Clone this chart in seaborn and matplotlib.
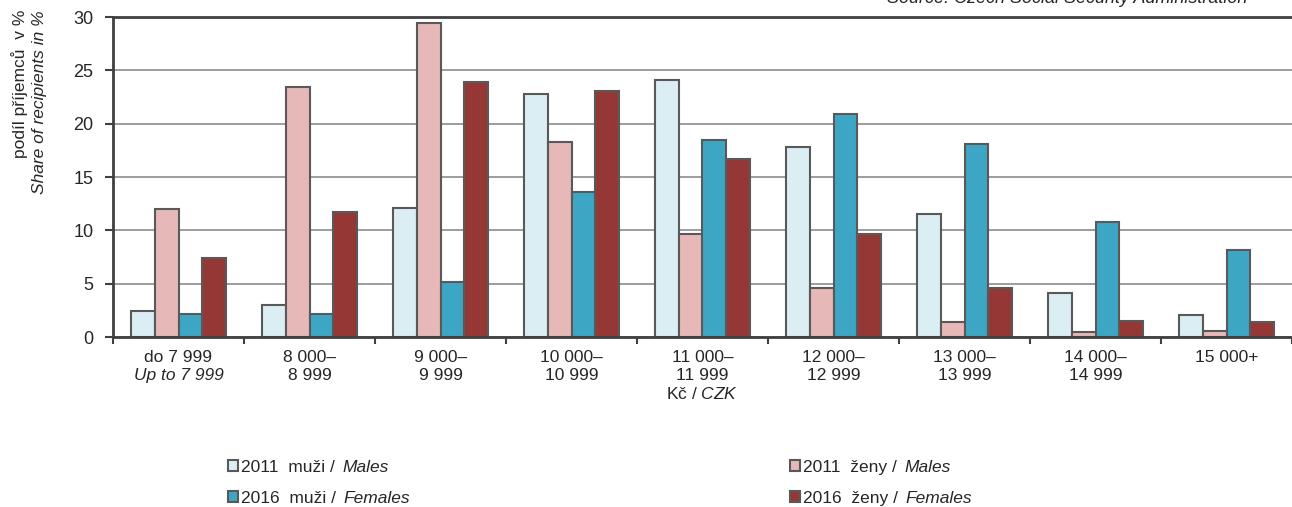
import matplotlib
matplotlib.use('Agg')
import pandas as pd
import matplotlib.pyplot as plt
import seaborn as sns
from matplotlib.patches import Patch

# Data
pasma = ['p1', 'p2', 'p3', 'p4', 'p5', 'p6', 'p7', 'p8', 'p9']
tick_labels = ['do 7 999', '8 000–\n8 999', '9 000–\n9 999',
               '10 000–\n10 999', '11 000–\n11 999', '12 000–\n12 999',
               '13 000–\n13 999', '14 000–\n14 999', '15 000+']
series = ['2011 muži', '2011 ženy', '2016 muži', '2016 ženy']
muzi_2011 = [2.4, 3.0, 12.1, 22.8, 24.1, 17.8, 11.5, 4.1, 2.1]
zeny_2011 = [12.0, 23.4, 29.4, 18.3, 9.7, 4.6, 1.4, 0.5, 0.6]
muzi_2016 = [2.2, 2.2, 5.2, 13.6, 18.5, 20.9, 18.1, 10.8, 8.2]
zeny_2016 = [7.4, 11.7, 23.9, 23.1, 16.7, 9.7, 4.6, 1.5, 1.4]
legend_cz = ['2011  muži /', '2011  ženy /', '2016  muži /', '2016  ženy /']
legend_en = ['Males', 'Males', 'Females', 'Females']
colors = ['#DAEEF3', '#E6B8B7', '#3DA6C4', '#953735']

df = pd.DataFrame({
    'pasmo': pasma * 4,
    'rada': [s for s in series for _ in pasma],
    'podil': muzi_2011 + zeny_2011 + muzi_2016 + zeny_2016,
})

sns.set_style('white')
plt.rcParams['font.family'] = ['Liberation Sans', 'DejaVu Sans']
plt.rcParams['mathtext.fontset'] = 'custom'
plt.rcParams['mathtext.rm'] = 'Liberation Sans'
plt.rcParams['mathtext.it'] = 'Liberation Sans:italic'

FS = 12.5
fig = plt.figure(figsize=(12.92, 5.07), dpi=100)
W, H = 1292, 507
ax = fig.add_axes([113 / W, 1 - 337 / H, 1 - 113 / W, 320 / H])

sns.barplot(data=df, x='pasmo', y='podil', hue='rada', order=pasma, hue_order=series,
            palette=colors, saturation=1, width=0.73, edgecolor='#595959', linewidth=1.5,
            legend=False, ax=ax)

ax.set_xlim(-0.5, 8.5)
ax.set_ylim(0, 30)
ax.set_yticks(range(0, 31, 5))
ax.yaxis.grid(True, color='#8C8C8C', linewidth=1.2)
ax.set_axisbelow(True)

for side in ['left', 'bottom', 'top']:
    ax.spines[side].set_color('#404040')
    ax.spines[side].set_linewidth(2)
ax.spines['right'].set_visible(False)

ax.tick_params(axis='y', direction='out', length=6, width=1.5, color='#404040',
               labelsize=13, pad=8, left=True)
ax.set_xticks(range(9))
ax.set_xticklabels(tick_labels, fontsize=FS, linespacing=1.3)
ax.set_xticks([i - 0.5 for i in range(10)], minor=True)
ax.tick_params(axis='x', which='major', length=0, pad=9)
ax.tick_params(axis='x', which='minor', direction='out', length=5, width=1.5,
               color='#404040', bottom=True)

ax.set_xlabel('Kč / $\\it{CZK}$', fontsize=FS, labelpad=2)
ax.set_ylabel('')

fig.text(20 / W, 1 - 10 / H, 'podíl příjemců  v %', rotation=90,
         ha='center', va='top', fontsize=FS)
fig.text(40 / W, 1 - 10 / H, 'Share of recipients in %', rotation=90,
         ha='center', va='top', fontsize=FS, style='italic')

fig.text(1247 / W, 1 - 7 / H, 'Source: Czech Social Security Administration',
         ha='right', va='bottom', fontsize=13, style='italic')

handles = [Patch(facecolor=c, edgecolor='#595959', linewidth=1.5) for c in colors]
order = [0, 2, 1, 3]
leg = fig.legend([handles[i] for i in order], [legend_cz[i] for i in order],
                 loc='upper left', bbox_to_anchor=(219 / W, 1 - 451 / H), ncol=2,
                 frameon=False, fontsize=FS, handlelength=0.6, handleheight=0.6,
                 handletextpad=0.15, columnspacing=26.15, labelspacing=0.93, borderpad=0)

# italic English parts placed right after the Czech text
fig.canvas.draw()
renderer = fig.canvas.get_renderer()
for txt, i in zip(leg.get_texts(), order):
    bb = txt.get_window_extent(renderer)
    fig.text((bb.x1 + 8) / W, bb.y0 / H, legend_en[i], ha='left', va='bottom',
             fontsize=FS, style='italic')

# italic second line of the first category label
bb2 = ax.get_xticklabels()[1].get_window_extent(renderer)
x0 = ax.transData.transform((0, 0))[0]
fig.text(x0 / W, bb2.y0 / H, 'Up to 7 999', ha='center', va='bottom',
         fontsize=FS, style='italic')

fig.savefig('out.png', dpi=100)
